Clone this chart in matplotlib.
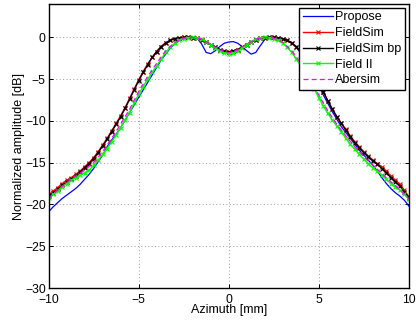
import matplotlib
matplotlib.use('Agg')
import matplotlib.pyplot as plt
import numpy as np

plt.rcParams['font.family'] = ['Liberation Sans', 'DejaVu Sans']

# Azimuth positions [mm]
x_fine = np.arange(-10.0, 10.01, 0.25)
x_coarse = np.arange(-10.0, 10.01, 0.5)

# Normalized amplitude [dB]
propose = [
    -20.9, -20.3, -19.8, -19.3, -18.9, -18.5, -18.1, -17.6, -17.0, -16.4,
    -15.7, -14.9, -14.1, -13.1, -12.3, -11.6, -10.8, -9.9, -9.0, -8.1,
    -7.2, -6.3, -5.4, -4.5, -3.6, -2.7, -2.0, -1.3, -0.8, -0.4,
    -0.15, -0.03, 0.0, -0.1, -0.8, -1.8, -1.95, -1.6, -1.1, -0.7,
    -0.55,
    -0.5, -0.7, -1.1, -1.6, -2.0, -1.8, -1.0, -0.25, 0.0, 0.0,
    -0.05, -0.2, -0.4, -0.75, -1.2, -1.9, -2.7, -3.6, -4.7, -5.8,
    -6.9, -7.9, -8.9, -9.8, -10.7, -11.4, -12.1, -12.8, -13.5, -14.1,
    -14.7, -15.3, -16.0, -16.8, -17.5, -18.1, -18.6, -19.0, -19.5, -20.2,
]
fieldsim = [
    -18.9, -18.4, -18.0, -17.5, -17.1, -16.8, -16.4, -16.0, -15.5, -15.0,
    -14.4, -13.7, -12.9, -12.1, -11.2, -10.3, -9.4, -8.4, -7.3, -6.2,
    -5.1, -4.1, -3.2, -2.4, -1.7, -1.1, -0.65, -0.35, -0.15, -0.05,
    0.0, 0.0, -0.02, -0.1, -0.3, -0.55, -0.85, -1.15, -1.45, -1.65,
    -1.72,
    -1.65, -1.45, -1.15, -0.85, -0.55, -0.3, -0.1, -0.02, 0.0, 0.0,
    -0.05, -0.15, -0.35, -0.65, -1.1, -1.7, -2.4, -3.3, -4.3, -5.4,
    -6.5, -7.6, -8.6, -9.5, -10.3, -11.0, -11.8, -12.5, -13.1, -13.7,
    -14.2, -14.7, -15.1, -15.5, -16.0, -16.6, -17.1, -17.6, -18.3, -19.1,
]
fieldsim_bp = [
    -19.0, -18.6, -18.2, -17.7, -17.35, -17.0, -16.6, -16.1, -15.6, -15.1,
    -14.5, -13.8, -13.0, -12.2, -11.3, -10.4, -9.5, -8.5, -7.4, -6.3,
    -5.2, -4.2, -3.3, -2.4, -1.7, -1.1, -0.65, -0.35, -0.15, -0.05,
    0.0, 0.0, -0.02, -0.1, -0.3, -0.55, -0.85, -1.15, -1.45, -1.65,
    -1.72,
    -1.65, -1.45, -1.15, -0.85, -0.55, -0.3, -0.1, -0.02, 0.0, 0.0,
    -0.05, -0.15, -0.35, -0.65, -1.1, -1.7, -2.4, -3.3, -4.3, -5.4,
    -6.5, -7.6, -8.6, -9.5, -10.3, -11.1, -11.9, -12.6, -13.2, -13.8,
    -14.3, -14.8, -15.2, -15.7, -16.2, -16.8, -17.3, -17.8, -18.5, -19.2,
]
field2 = [
    -19.2, -18.8, -18.4, -17.9, -17.5, -17.1, -16.8, -16.5, -16.2, -15.9,
    -15.3, -14.7, -14.0, -13.3, -12.5, -11.7, -10.8, -9.9, -9.0, -7.9,
    -6.8, -5.9, -5.0, -4.2, -3.4, -2.6, -1.8, -1.2, -0.7, -0.35,
    -0.15, -0.03, 0.0, -0.05, -0.2, -0.5, -0.85, -1.25, -1.6, -1.85,
    -1.95,
    -1.85, -1.6, -1.25, -0.85, -0.5, -0.2, -0.05, 0.0, -0.03, -0.15,
    -0.35, -0.7, -1.2, -1.8, -2.6, -3.4, -4.3, -5.2, -6.2, -7.2,
    -8.2, -9.1, -9.9, -10.6, -11.3, -12.1, -12.8, -13.4, -14.0, -14.6,
    -15.1, -15.6, -16.0, -16.5, -17.0, -17.5, -17.9, -18.3, -18.8, -19.4,
]
abersim = [
    -19.3, -18.3, -17.4, -16.6, -15.9, -15.0, -13.7, -12.1, -10.4, -8.6,
    -6.5, -4.7, -3.1, -1.6, -0.6, -0.1, 0.0, -0.2, -0.8, -1.5,
    -1.85,
    -1.5, -0.8, -0.2, 0.0, -0.1, -0.6, -1.6, -3.1, -4.9, -6.9,
    -8.8, -10.4, -11.8, -13.1, -14.3, -15.3, -16.3, -17.3, -18.2, -19.3,
]

fig = plt.figure(figsize=(4.16, 3.25), dpi=100)
ax = fig.add_axes([0.1166, 0.1138, 0.8664, 0.8739])

ax.plot(x_fine, propose, color='#0000ff', lw=0.9, label='Propose')
ax.plot(x_fine, fieldsim, color='#ff0000', lw=1.0, marker='x', ms=2.5, mew=0.8, label='FieldSim')
ax.plot(x_fine, fieldsim_bp, color='k', lw=1.0, marker='x', ms=2.5, mew=0.8, label='FieldSim bp')
ax.plot(x_fine, field2, color='#00ff00', lw=1.0, marker='x', ms=2.5, mew=0.8, label='Field II')
ax.plot(x_coarse, abersim, color='#ff00ff', lw=0.9, ls=(0, (4, 2.5)), label='Abersim')

ax.set_xlim(-10, 10)
ax.set_ylim(-30, 4)
ax.set_xticks([-10, -5, 0, 5, 10])
ax.set_yticks([-30, -25, -20, -15, -10, -5, 0])
ax.set_xticklabels(['\u221210', '\u22125', '0', '5', '10'])
ax.set_yticklabels(['\u221230', '\u221225', '\u221220', '\u221215', '\u221210', '\u22125', '0'])
ax.grid(True, color='#9a9a9a', ls=(0, (1, 2.5)), lw=0.7)
ax.tick_params(direction='in', top=True, right=True, length=3, width=0.7, labelsize=8.7)
ax.tick_params(axis='x', pad=4)
ax.tick_params(axis='y', pad=2)
for s in ax.spines.values():
    s.set_linewidth(1.0)

ax.set_xlabel('Azimuth [mm]', fontsize=9, labelpad=-1)
ax.set_ylabel('Normalized amplitude [dB]', fontsize=9, labelpad=0)

leg = ax.legend(loc='upper right', fontsize=9, handlelength=2.4, handletextpad=0.2,
                borderpad=0.3, labelspacing=0.3, borderaxespad=0.3, fancybox=False,
                framealpha=1, edgecolor='k')
leg.get_frame().set_linewidth(1.0)

fig.savefig('out.png', dpi=100)
